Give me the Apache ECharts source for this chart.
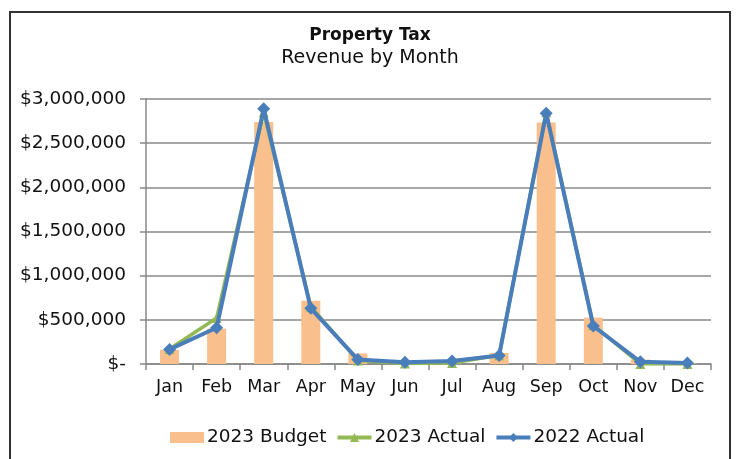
<!DOCTYPE html>
<html>
<head>
<meta charset="utf-8">
<style>
  html, body { margin: 0; padding: 0; background: #fff; }
  #frame { position: absolute; left: 9px; top: 11px; width: 722px; height: 460px; border: 2px solid #333; box-sizing: border-box; }
  #chart { position: absolute; left: 0; top: 0; width: 740px; height: 459px; }
</style>
<script src="https://cdn.jsdelivr.net/npm/echarts@6/dist/echarts.min.js"></script>
</head>
<body>
<div id="frame"></div>
<div id="chart"></div>
<script>
// Monthly property tax revenue
const months = ['Jan', 'Feb', 'Mar', 'Apr', 'May', 'Jun', 'Jul', 'Aug', 'Sep', 'Oct', 'Nov', 'Dec'];
const budget2023 = [160000, 400000, 2740000, 715000, 120000, 5000, 5000, 125000, 2735000, 525000, 50000, 5000];
const actual2023 = [170000, 520000, 2850000, 650000, 40000, 5000, 10000, 100000, 2850000, 440000, 0, 0];
const actual2022 = [165000, 410000, 2890000, 630000, 50000, 20000, 35000, 95000, 2840000, 430000, 25000, 12000];

const FONT = 'DejaVu Sans';

function money(v) {
  if (v === 0) return '$-';
  return '$' + v.toString().replace(/\B(?=(\d{3})+(?!\d))/g, ',');
}

const chart = echarts.init(document.getElementById('chart'), null, { renderer: 'canvas' });
chart.setOption({
  animation: false,
  backgroundColor: 'transparent',
  title: {
    text: 'Property Tax',
    subtext: 'Revenue by Month',
    left: 'center',
    top: 22,
    itemGap: 5,
    textStyle: { fontFamily: FONT, fontSize: 17, fontWeight: 'bold', color: '#111' },
    subtextStyle: { fontFamily: FONT, fontSize: 19, color: '#111' }
  },
  legend: {
    bottom: 7,
    left: 165,
    itemGap: 9,
    itemWidth: 34,
    itemHeight: 11,
    textStyle: { fontFamily: FONT, fontSize: 18.5, color: '#111', padding: [0, 0, 0, -2] },
    data: [
      { name: '2023 Budget', icon: 'rect' },
      { name: '2023 Actual', lineStyle: { width: 4 } },
      { name: '2022 Actual', lineStyle: { width: 4 } }
    ]
  },
  grid: { left: 146, right: 29, top: 99, bottom: 95 },
  xAxis: {
    type: 'category',
    data: months,
    boundaryGap: true,
    axisLine: { lineStyle: { color: '#888', width: 1.5 } },
    axisTick: { show: true, length: 6, interval: 0, lineStyle: { color: '#888', width: 1.5 } },
    axisLabel: { fontFamily: FONT, fontSize: 17.5, color: '#111', margin: 14, interval: 0 }
  },
  yAxis: {
    type: 'value',
    min: 0,
    max: 3000000,
    interval: 500000,
    axisLine: { show: true, lineStyle: { color: '#888', width: 1.5 } },
    axisTick: { show: true, length: 6, lineStyle: { color: '#888', width: 1.5 } },
    splitLine: { lineStyle: { color: '#888', width: 1.5 } },
    axisLabel: { fontFamily: FONT, fontSize: 18.5, color: '#111', margin: 20, formatter: money }
  },
  series: [
    {
      name: '2023 Budget',
      type: 'bar',
      data: budget2023,
      barWidth: 19,
      itemStyle: { color: '#F9BF8D' },
      z: 1
    },
    {
      name: '2023 Actual',
      type: 'line',
      data: actual2023,
      symbol: 'triangle',
      symbolSize: 10,
      lineStyle: { color: '#93B955', width: 3.5 },
      itemStyle: { color: '#93B955' },
      z: 2
    },
    {
      name: '2022 Actual',
      type: 'line',
      data: actual2022,
      symbol: 'diamond',
      symbolSize: 13,
      lineStyle: { color: '#4A7EBB', width: 4 },
      itemStyle: { color: '#4A7EBB' },
      z: 3
    }
  ]
});
</script>
</body>
</html>
